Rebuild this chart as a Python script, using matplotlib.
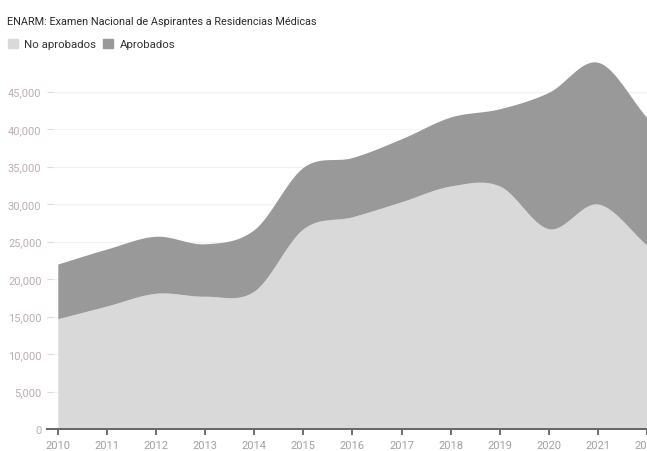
import numpy as np
import matplotlib
matplotlib.use("Agg")
import matplotlib.pyplot as plt
from matplotlib.patches import Patch

plt.rcParams['font.family'] = ['Roboto', 'DejaVu Sans']

# data
years = [2010, 2011, 2012, 2013, 2014, 2015, 2016, 2017, 2018, 2019, 2020, 2021, 2022]
no_aprobados = [14700, 16400, 18100, 17700, 18400, 26700, 28300, 30300, 32400, 32400, 26700, 30000, 24500]
aprobados = [7300, 7600, 7600, 7000, 8200, 8200, 7900, 8400, 9200, 10300, 18200, 18900, 17000]
y_ticks = [0, 5000, 10000, 15000, 20000, 25000, 30000, 35000, 40000, 45000]

light = '#d9d9d9'
dark = '#999999'


def smooth(x, y, n=30):
    # cubic hermite curve through the points, only for drawing
    x = np.asarray(x, float)
    y = np.asarray(y, float)
    m = np.gradient(y, x)
    xs, ys = [], []
    for i in range(len(x) - 1):
        h = x[i + 1] - x[i]
        t = np.linspace(0, 1, n, endpoint=False)
        h00 = 2 * t**3 - 3 * t**2 + 1
        h10 = t**3 - 2 * t**2 + t
        h01 = -2 * t**3 + 3 * t**2
        h11 = t**3 - t**2
        xs.append(x[i] + t * h)
        ys.append(h00 * y[i] + h10 * h * m[i] + h01 * y[i + 1] + h11 * h * m[i + 1])
    xs.append([x[-1]])
    ys.append([y[-1]])
    return np.concatenate(xs), np.concatenate(ys)


total = [a + b for a, b in zip(no_aprobados, aprobados)]
sx, s_low = smooth(years, no_aprobados)
_, s_tot = smooth(years, total)

fig = plt.figure(figsize=(6.47, 4.52), dpi=100)
W, H = 647, 452
ax = fig.add_axes([47 / W, (H - 430) / H, (W - 47) / W, (430 - 50) / H])

ax.fill_between(sx, 0, s_low, color=light, lw=0, zorder=2)
ax.fill_between(sx, s_low, s_tot, color=dark, lw=0, zorder=2)

ax.set_xlim(2010 - 11 / 50, 2010 + (647 - 58) / 50)
ax.set_ylim(0, (430 - 50) / 0.0075)

ax.set_xticks(years)
ax.set_xticklabels([str(y) for y in years])
ax.set_yticks(y_ticks)
ax.set_yticklabels(['0'] + [f'{v:,}' for v in y_ticks[1:]])

ax.tick_params(axis='y', length=4, direction='in', color='#dddddd',
               labelsize=8, labelcolor='#bcaeae', pad=4)
ax.tick_params(axis='x', length=4, width=1.2, color='#555555',
               labelsize=8, labelcolor='#a0a0a0', pad=4)
ax.grid(axis='y', color='#f2f2f2', lw=0.8, zorder=0)
for s in ['top', 'right', 'left']:
    ax.spines[s].set_visible(False)
ax.spines['bottom'].set_color('#666666')
ax.spines['bottom'].set_linewidth(1.4)
ax.spines['bottom'].set_zorder(3)

fig.text(7 / W, 1 - 22 / H, 'ENARM: Examen Nacional de Aspirantes a Residencias Médicas',
         fontsize=7.8, color='#2a2a2a', va='center', ha='left')

handles = [Patch(color=light, label='No aprobados'), Patch(color=dark, label='Aprobados')]
fig.legend(handles=handles, loc='center left', bbox_to_anchor=(0.0, 1 - 45 / H),
           ncol=2, frameon=False, fontsize=8.2, handlelength=0.85, handleheight=0.85,
           handletextpad=0.6, columnspacing=0.6, borderaxespad=0.3,
           labelcolor='#333333')

fig.savefig('out.png', dpi=100)
